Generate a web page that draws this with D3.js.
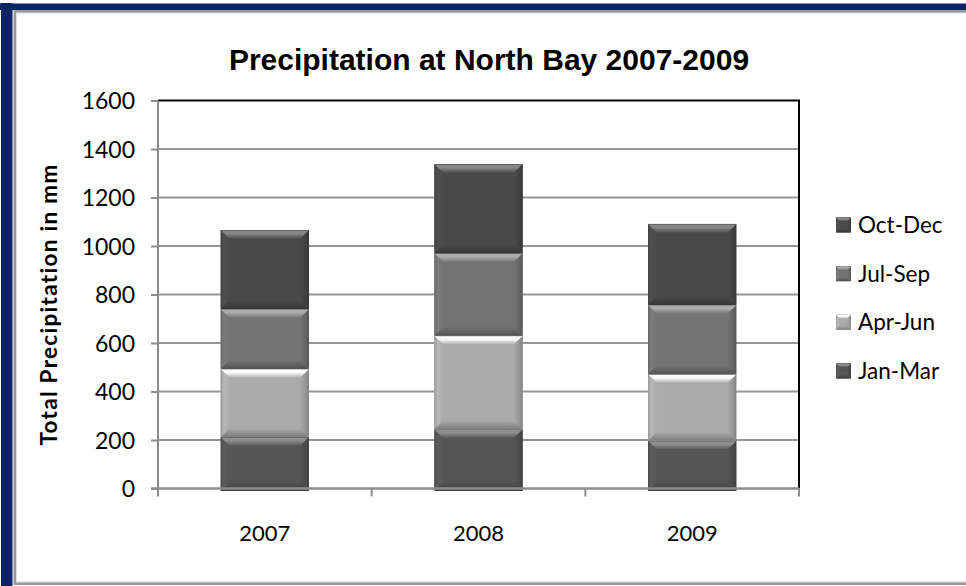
<!DOCTYPE html>
<html>
<head>
<meta charset="utf-8">
<script src="https://cdn.jsdelivr.net/npm/d3@7"></script>
<style>
  html, body { margin: 0; padding: 0; background: #ffffff; }
  svg { display: block; }
</style>
</head>
<body>
<svg id="chart" width="966" height="586"></svg>
<script>
// Quarterly precipitation totals (mm) at North Bay
const years   = ["2007", "2008", "2009"];
const seasons = ["Jan-Mar", "Apr-Jun", "Jul-Sep", "Oct-Dec"];
const janMar  = [212, 244, 197];
const aprJun  = [281, 386, 274];
const julSep  = [247, 340, 286];
const octDec  = [326, 368, 334];
const yTicks  = [0, 200, 400, 600, 800, 1000, 1200, 1400, 1600];

const seriesValues = { "Jan-Mar": janMar, "Apr-Jun": aprJun, "Jul-Sep": julSep, "Oct-Dec": octDec };

// fill colours for each quarter: base face and top highlight
const palette = {
  "Jan-Mar": { base: "#555555", hi: "#8e8e8e" },
  "Apr-Jun": { base: "#ababab", hi: "#fafafa" },
  "Jul-Sep": { base: "#737373", hi: "#acacac" },
  "Oct-Dec": { base: "#4a4a4a", hi: "#888888" }
};

const W = 966, H = 586;
const svg = d3.select("#chart");
const defs = svg.append("defs");

// ---- outer frame ----
svg.append("rect").attr("x", 0).attr("y", 0).attr("width", W).attr("height", H).attr("fill", "#ffffff");
svg.append("rect").attr("x", 0).attr("y", 3).attr("width", W).attr("height", 7).attr("fill", "#0c2463");
svg.append("rect").attr("x", 0).attr("y", 3).attr("width", W).attr("height", 1).attr("fill", "#7d8fbd");
svg.append("rect").attr("x", 1).attr("y", 3).attr("width", 11.5).attr("height", H - 3).attr("fill", "#0c2463");
svg.append("rect").attr("x", 15).attr("y", 11.5).attr("width", W + 10).attr("height", 572)
  .attr("fill", "none").attr("stroke", "#9a9a9a").attr("stroke-width", 3);
svg.append("rect").attr("x", 16.5).attr("y", 13).attr("width", W + 10).attr("height", 569)
  .attr("fill", "none").attr("stroke", "#dcdcdc").attr("stroke-width", 1);

// ---- plot area ----
const plot = { left: 158, right: 799, top: 100.5, bottom: 488.5 };

const y = d3.scaleLinear().domain([0, 1600]).range([plot.bottom, plot.top]);
const x = d3.scaleBand().domain(years).range([plot.left, plot.right]).padding(0);
const barW = x.bandwidth() * 0.413;

// horizontal gridlines
svg.append("g").selectAll("line").data(yTicks.filter(t => t > 0 && t < 1600)).join("line")
  .attr("x1", plot.left).attr("x2", plot.right)
  .attr("y1", d => y(d)).attr("y2", d => y(d))
  .attr("stroke", "#969696").attr("stroke-width", 2);

// plot-area border (top and right)
svg.append("path")
  .attr("d", `M${plot.left},${y(1600)}H${plot.right}V${plot.bottom}`)
  .attr("fill", "none").attr("stroke", "#000000").attr("stroke-width", 2);

// ---- bevelled stacked bars ----
function gradient(id, x1, y1, x2, y2, stops) {
  const g = defs.append("linearGradient").attr("id", id)
    .attr("x1", x1).attr("y1", y1).attr("x2", x2).attr("y2", y2);
  stops.forEach(([o, c]) => g.append("stop").attr("offset", o).attr("stop-color", c));
}

seasons.forEach((s, i) => {
  const base = d3.color(palette[s].base);
  const hi = palette[s].hi;
  gradient(`top${i}`, 0, 0, 0, 1, [[0, base.darker(0.25)], [0.12, hi], [0.4, hi], [1, base]]);
  gradient(`bot${i}`, 0, 0, 0, 1, [[0, base], [0.5, base.darker(0.4)], [1, base.darker(0.9)]]);
  gradient(`lft${i}`, 0, 0, 1, 0, [[0, base.darker(0.35)], [0.35, base.brighter(0.2)], [1, base]]);
  gradient(`rgt${i}`, 0, 0, 1, 0, [[0, base], [0.6, base.darker(0.35)], [1, base.darker(0.8)]]);
});

function bevel(g, x0, y0, w, h, i, size) {
  const b = Math.min(size, h / 2, w / 2);
  const x1 = x0 + w, y1 = y0 + h;
  g.append("rect").attr("x", x0).attr("y", y0).attr("width", w).attr("height", h)
    .attr("fill", palette[seasons[i]].base);
  const poly = (pts, fill) => g.append("polygon")
    .attr("points", pts.map(p => p.join(",")).join(" ")).attr("fill", fill);
  poly([[x0, y0], [x0 + b, y0 + b], [x0 + b, y1 - b], [x0, y1]], `url(#lft${i})`);
  poly([[x1, y0], [x1, y1], [x1 - b, y1 - b], [x1 - b, y0 + b]], `url(#rgt${i})`);
  poly([[x0, y1], [x0 + b, y1 - b], [x1 - b, y1 - b], [x1, y1]], `url(#bot${i})`);
  poly([[x0, y0], [x1, y0], [x1 - b, y0 + b], [x0 + b, y0 + b]], `url(#top${i})`);
}

const stackData = years.map((yr, j) => {
  const row = { year: yr };
  seasons.forEach(s => { row[s] = seriesValues[s][j]; });
  return row;
});
const stacked = d3.stack().keys(seasons)(stackData);

const barsG = svg.append("g");
stacked.forEach((layer, i) => {
  layer.forEach(d => {
    const yr = d.data.year;
    const cx = x(yr) + x.bandwidth() / 2;
    const top = y(d[1]);
    const bot = i === 0 ? y(d[0]) + 2.5 : y(d[0]);
    bevel(barsG, cx - barW / 2, top, barW, bot - top, i, 9);
  });
});

// ---- axes ----
const tickFont = "Lato, 'Open Sans', sans-serif";

const yAxis = svg.append("g").attr("transform", `translate(${plot.left},0)`)
  .call(d3.axisLeft(y).tickValues(yTicks).tickSize(7).tickPadding(16).tickFormat(d3.format("d")));
yAxis.select(".domain").remove();
yAxis.selectAll(".tick line").attr("stroke", "#8c8c8c").attr("stroke-width", 2);
yAxis.selectAll(".tick text").attr("font-family", tickFont).attr("font-size", 23)
  .attr("fill", "#000").attr("dy", "0.36em");

// vertical axis line
svg.append("line").attr("x1", plot.left).attr("x2", plot.left)
  .attr("y1", plot.top).attr("y2", plot.bottom + 8)
  .attr("stroke", "#8c8c8c").attr("stroke-width", 2);

// horizontal axis line and category boundary ticks
svg.append("line").attr("x1", plot.left - 7).attr("x2", plot.right)
  .attr("y1", plot.bottom).attr("y2", plot.bottom)
  .attr("stroke", "#8c8c8c").attr("stroke-width", 2.5);
svg.append("g").selectAll("line").data(years.slice(1).concat(["_end"])).join("line")
  .attr("x1", d => d === "_end" ? plot.right : x(d))
  .attr("x2", d => d === "_end" ? plot.right : x(d))
  .attr("y1", plot.bottom).attr("y2", plot.bottom + 8)
  .attr("stroke", "#8c8c8c").attr("stroke-width", 2);

const xAxis = svg.append("g").attr("transform", `translate(0,${plot.bottom})`)
  .call(d3.axisBottom(x).tickSize(0).tickPadding(0));
xAxis.select(".domain").remove();
xAxis.selectAll(".tick text").attr("font-family", tickFont).attr("font-size", 22)
  .attr("fill", "#000").attr("y", 52).attr("dy", 0);

// ---- titles ----
svg.append("text").attr("x", 489).attr("y", 70).attr("text-anchor", "middle")
  .attr("font-family", "'Liberation Sans', Arial, sans-serif").attr("font-weight", "bold")
  .attr("font-size", 30).text("Precipitation at North Bay 2007-2009");

svg.append("text").attr("transform", `translate(57,${(plot.top + plot.bottom) / 2 + 10}) rotate(-90)`)
  .attr("text-anchor", "middle")
  .attr("font-family", tickFont).attr("font-weight", "bold")
  .attr("font-size", 22.5).attr("letter-spacing", 1.3)
  .text("Total Precipitation in mm");

// ---- legend (top series first) ----
const legend = svg.append("g");
const legendOrder = seasons.slice().reverse();
const ly = d3.scalePoint().domain(legendOrder).range([225, 371]);
legendOrder.forEach(s => {
  const i = seasons.indexOf(s);
  const cy = ly(s);
  bevel(legend.append("g"), 836, cy - 7.5, 15, 15, i, 4);
  legend.append("text").attr("x", 858).attr("y", cy).attr("dy", "0.36em")
    .attr("font-family", tickFont).attr("font-size", 22.5).text(s);
});
</script>
</body>
</html>
